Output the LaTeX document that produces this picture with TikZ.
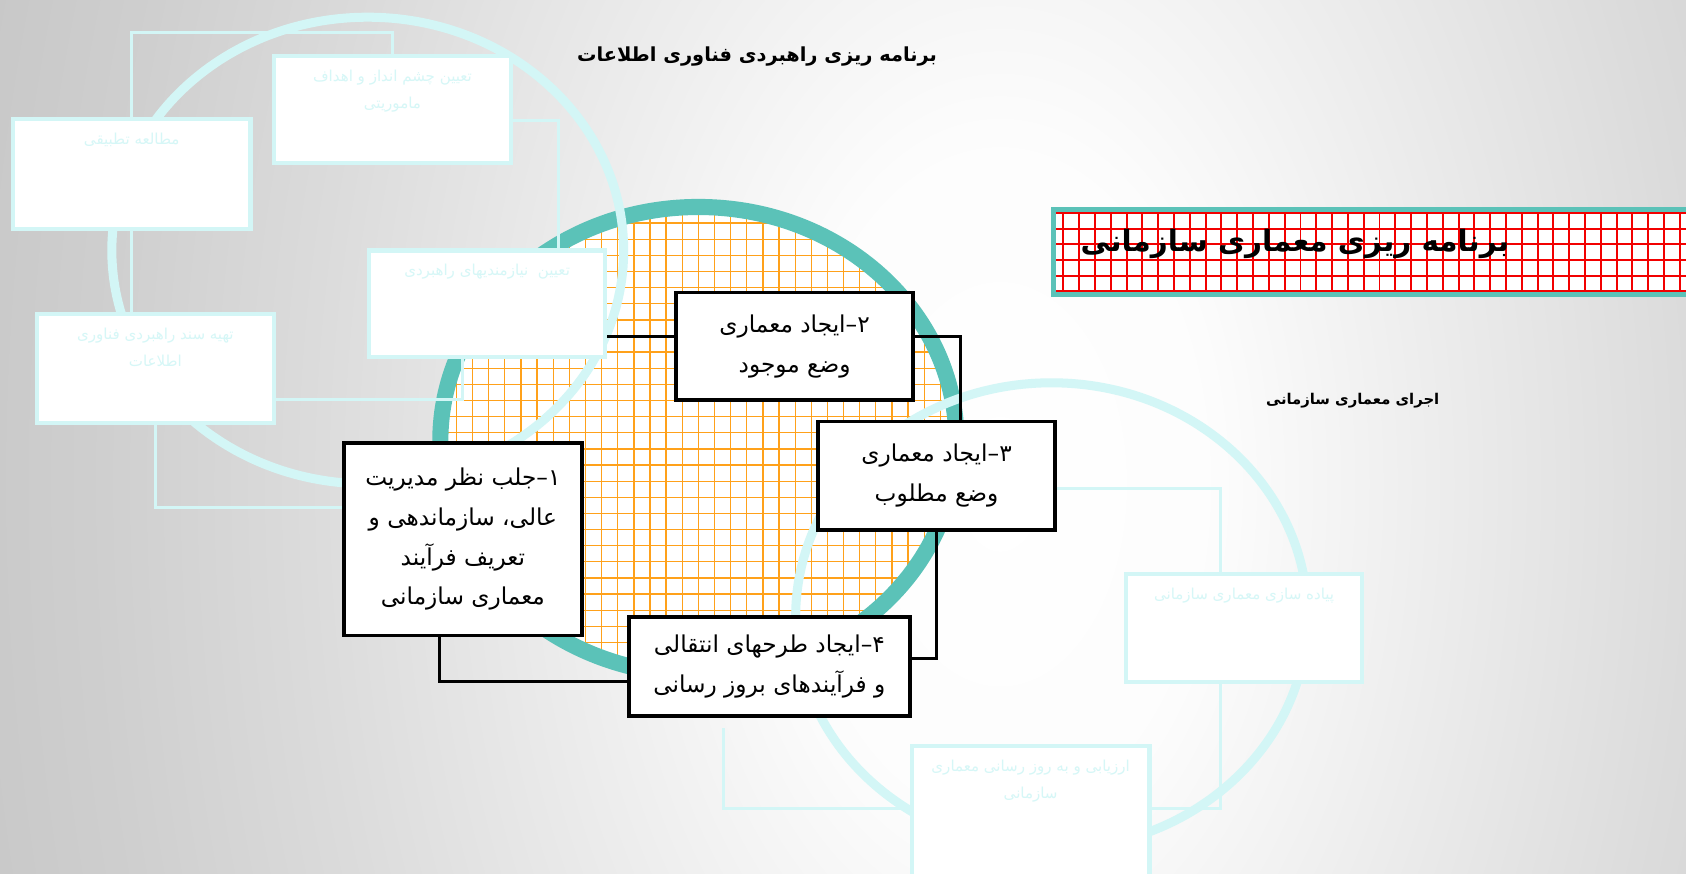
\documentclass[tikz,border=0pt]{standalone}
\usepackage{fontspec}
\newfontfamily\arabicfont[Script=Arabic]{DejaVu Sans}
\TeXXeTstate=1
\usetikzlibrary{positioning}
\definecolor{paleline}{HTML}{D3F6F6}
\definecolor{paletext}{HTML}{D6F7F7}
\definecolor{ringteal}{HTML}{5BC2B8}
\definecolor{gridorange}{HTML}{FFA11A}
\definecolor{gridred}{HTML}{F20000}
\pgfdeclareradialshading{slidebg}{\pgfpoint{0bp}{0bp}}{color(0bp)=(white); color(5bp)=(black!1); color(10bp)=(black!7); color(16bp)=(black!14); color(21bp)=(black!19); color(25bp)=(black!22); color(50bp)=(black!22)}
\newcommand{\fa}[1]{\beginR #1\endR}
\newcommand{\palebody}[3]{\parbox[c][#1][t]{#2}{\centering\vspace{6.5pt}#3}}
\tikzstyle{step_box}=[draw=black, line width=1.8pt, fill=white, inner sep=0pt, align=center, font=\arabicfont\fontsize{10.8}{18.5}\selectfont]
\tikzstyle{pale_box}=[draw=paleline, line width=1.9pt, fill=white, inner sep=0pt, text=paletext, font=\arabicfont\fontsize{7}{12.5}\selectfont]
\tikzstyle{link}=[black, line width=1.4pt]
\tikzstyle{pale_link}=[paleline, line width=1.4pt]
\tikzstyle{pale_ring}=[paleline, line width=4.2pt]
\tikzstyle{orange_grid}=[path picture={\foreach \g in {0,...,33} {\draw[gridorange, line width=0.6pt] ([xshift=\g*7.5pt]path picture bounding box.south west) -- ([xshift=\g*7.5pt]path picture bounding box.north west); \draw[gridorange, line width=0.6pt] ([yshift=\g*7.5pt]path picture bounding box.south west) -- ([yshift=\g*7.5pt]path picture bounding box.south east);}}]
\tikzstyle{red_grid}=[path picture={\foreach \g in {0,...,44} {\draw[gridred, line width=0.9pt] ([xshift=4.5pt+\g*7.35pt]path picture bounding box.south west) -- ([xshift=4.5pt+\g*7.35pt]path picture bounding box.north west); \draw[gridred, line width=0.9pt] ([yshift=1.5pt+\g*7.3pt]path picture bounding box.south west) -- ([yshift=1.5pt+\g*7.3pt]path picture bounding box.south east);}}]
\tikzstyle{banner_box}=[draw=ringteal, line width=2.25pt, fill=white, red_grid]
\begin{document}
\begin{tikzpicture}[x=0.5pt, y=-0.5pt]
\path[use as bounding box, clip] (0,0) rectangle (1568,812);
\shade[shading=slidebg] (930,450) ellipse [x radius=500pt, y radius=800pt];
\draw[ringteal, line width=7.5pt, fill=white, orange_grid] (649.5,410) ellipse [x radius=120pt, y radius=108.75pt];
\draw[pale_ring] (342,233) ellipse [x radius=119pt, y radius=108.5pt];
\draw[pale_ring] (978,573) ellipse [x radius=119pt, y radius=108.5pt];
\node[pale_box] (itsp1) at (122.5,162) {\palebody{51pt}{110.5pt}{\fa{مطالعه تطبیقی}}};
\node[pale_box] (itsp2) at (365,102) {\palebody{50pt}{110pt}{\fa{تعیین چشم انداز و اهداف}\\\fa{ماموریتی}}};
\node[pale_box] (itsp3) at (453,282.5) {\palebody{49.5pt}{110pt}{\fa{تعیین~ نیازمندیهای راهبردی}}};
\node[pale_box] (itsp4) at (144.5,342.5) {\palebody{50.5pt}{110.5pt}{\fa{تهیه سند راهبردی فناوری}\\\fa{اطلاعات}}};
\node[pale_box] (eaimp1) at (1157,584) {\palebody{50pt}{110pt}{\fa{پیاده سازی معماری سازمانی}}};
\node[pale_box] (eaimp2) at (958.5,759) {\palebody{65pt}{110.5pt}{\fa{ارزیابی و به روز رسانی معماری}\\\fa{سازمانی}}};
\node[step_box, minimum width=110.5pt, minimum height=89.5pt] (arch1) at (430.5,501.5) {\fa{۱–جلب نظر مدیریت}\\\fa{عالی، سازماندهی و}\\\fa{تعریف فرآیند}\\\fa{معماری سازمانی}};
\node[step_box, minimum width=110pt, minimum height=50pt] (arch2) at (739,322) {\fa{۲–ایجاد معماری}\\\fa{وضع موجود}};
\node[step_box, minimum width=110pt, minimum height=50.5pt] (arch3) at (871,442.5) {\fa{۳–ایجاد معماری}\\\fa{وضع مطلوب}};
\node[step_box, minimum width=130.5pt, minimum height=46pt] (arch4) at (715.5,620) {\fa{۴–ایجاد طرحهای انتقالی}\\\fa{و فرآیندهای بروز رسانی}};
\draw[pale_link] (itsp1.north) |- ([yshift=10pt]itsp2.north) -- (itsp2.north);
\draw[pale_link] ([yshift=-5pt]itsp2.east) -| ([xshift=33pt]itsp3.north);
\draw[pale_link] ([xshift=-11.5pt]itsp3.south) |- ([yshift=-14.75pt]itsp4.east);
\draw[pale_link] (itsp1.south) -- (itsp4.north -| itsp1.south);
\draw[pale_link] (itsp4.south) |- ([yshift=14.75pt]arch1.west);
\draw[pale_link] ([yshift=-5.75pt]arch3.east) -| ([xshift=-11pt]eaimp1.north);
\draw[pale_link] ([xshift=-11pt]eaimp1.south) |- ([yshift=3.5pt]eaimp2.east);
\draw[pale_link] ([yshift=3.5pt]eaimp2.west) -| ([xshift=-21.25pt,yshift=-4.5pt]arch4.south);
\draw[link] ([yshift=4.5pt]arch2.west) -- ([yshift=4.5pt]arch2.west -| itsp3.east);
\draw[link] ([yshift=4.5pt]arch2.east) -| ([xshift=11pt]arch3.north);
\draw[link] (arch3.south) |- ([yshift=4pt]arch4.east);
\draw[link] ([yshift=-7pt]arch4.west) -| ([xshift=-10.75pt]arch1.south);
\node[banner_box, anchor=north west, minimum width=320pt, minimum height=39.5pt] (banner) at (977.7,192.8) {};
\node[font=\arabicfont\bfseries\fontsize{13.7}{17}\selectfont, anchor=west] (bannertitle) at (998,227) {\fa{برنامه ریزی معماری سازمانی}};
\node[font=\arabicfont\bfseries\fontsize{9}{12}\selectfont] (itsptitle) at (704,53) {\fa{برنامه ریزی راهبردی فناوری اطلاعات}};
\node[font=\arabicfont\bfseries\fontsize{6.9}{9}\selectfont] (eatitle) at (1258,373) {\fa{اجرای معماری سازمانی}};
\end{tikzpicture}
\end{document}
